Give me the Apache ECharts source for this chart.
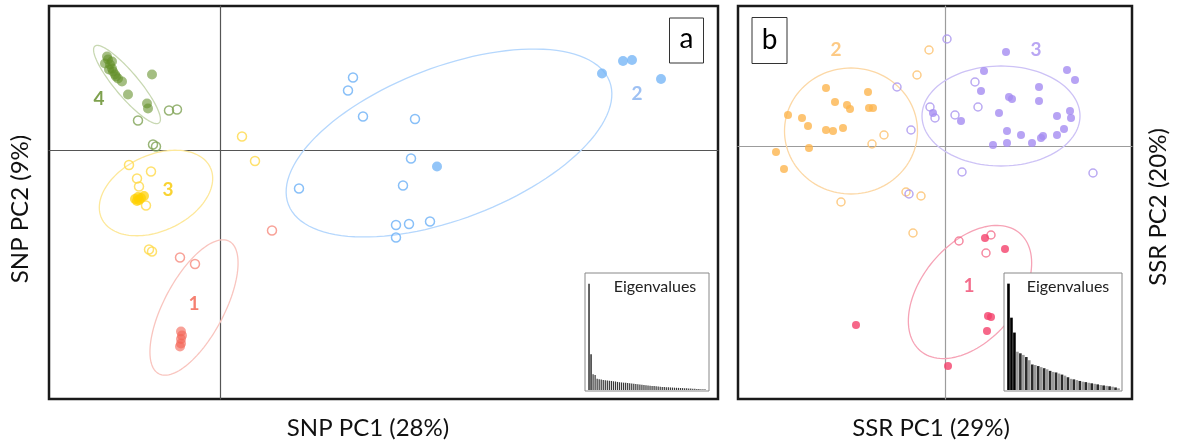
<!DOCTYPE html>
<html><head><meta charset="utf-8">
<script src="https://cdn.jsdelivr.net/npm/echarts@6/dist/echarts.min.js"></script>
<style>html,body{margin:0;padding:0;background:#fff}#c{width:1177px;height:444px}</style>
</head><body><div id="c"></div>
<script>
// ---------------- DATA (PCA scores) ----------------
// Panel a: SNP
const snpG4Filled = [[-1.13,0.94],[-1.12,0.91],[-1.15,0.87],[-1.10,0.86],[-1.08,0.89],[-1.08,0.82],[-1.07,0.79],[-1.05,0.76],[-1.02,0.72],[-0.98,0.69],[-0.92,0.56],[-0.73,0.47],[-0.72,0.42],[-0.68,0.76],[-1.11,0.81],[-1.04,0.74]];
const snpG4Open   = [[-0.82,0.30],[-0.51,0.40],[-0.43,0.41],[-0.67,0.06],[-0.64,0.04]];
const snpG3Filled = [[-0.85,-0.485],[-0.82,-0.465],[-0.79,-0.475],[-0.76,-0.455],[-0.83,-0.505],[-0.81,-0.495]];
const snpG3Open   = [[0.22,0.14],[0.35,-0.105],[-0.91,-0.145],[-0.69,-0.21],[-0.83,-0.28],[-0.81,-0.36],[-0.74,-0.55],[-0.71,-0.99],[-0.68,-1.01]];
const snpG1Filled = [[-0.39,-1.81],[-0.38,-1.85],[-0.39,-1.885],[-0.39,-1.93],[-0.40,-1.96]];
const snpG1Open   = [[-0.40,-1.07],[-0.25,-1.135],[0.52,-0.80]];
const snpG2Filled = [[2.17,-0.16],[3.82,0.77],[4.03,0.895],[4.12,0.905],[4.41,0.715]];
const snpG2Open   = [[1.33,0.73],[1.28,0.60],[1.43,0.34],[0.79,-0.38],[1.95,0.315],[1.91,-0.08],[1.83,-0.35],[1.76,-0.745],[1.89,-0.735],[2.10,-0.71],[1.76,-0.87]];
// ellipses: [centre x, centre y, semi-axis a, semi-axis b, angle deg]
const snpEllipses = {g4:[-0.93,0.66,0.50,0.12,-50], g3:[-0.64,-0.425,0.60,0.38,25], g1:[-0.26,-1.57,0.75,0.30,62], g2:[2.29,0.075,1.72,0.76,21]};
const snpLabels = [['4',-1.21,0.52,'g4'],['3',-0.52,-0.39,'g3'],['1',-0.26,-1.53,'g1'],['2',4.17,0.57,'g2']];
const snpEigen = [100,33.5,14.7,14,10.5,10,9.8,9.5,9.2,9,8.8,8.5,8.2,8,7.6,7.3,7.1,6.9,6.7,6.5,6.3,6.1,5.9,5.7,5.5,5.2,4.9,4.7,4.5,4.3,4.0,3.8,3.7,3.5,3.3,3.1,2.9,2.8,2.6,2.5,2.4,2.3,2.2,2.1,2.0,1.9,1.8,1.7,1.6,1.5,1.4,1.2,1.1,1.0,0.9,0.8,0.7,0.6];

// Panel b: SSR
const ssrG2Filled = [[-1.19,0.58],[-1.10,0.44],[-0.98,0.41],[-0.95,0.37],[-0.77,0.54],[-0.76,0.38],[-0.72,0.38],[-1.57,0.31],[-1.43,0.28],[-1.37,0.20],[-1.19,0.16],[-1.12,0.15],[-1.02,0.18],[-1.36,-0.02],[-1.69,-0.06],[-1.61,-0.23]];
const ssrG2Open   = [[-0.16,0.96],[-0.28,0.71],[-0.61,0.11],[-0.73,0.02],[-1.04,-0.56],[-0.39,-0.46],[-0.24,-0.50],[-0.32,-0.87]];
const ssrG3Filled = [[-0.12,0.33],[0.16,0.25],[0.61,0.94],[0.39,0.75],[0.36,0.55],[0.64,0.49],[0.67,0.47],[0.54,0.33],[0.94,0.59],[0.94,0.45],[1.22,0.76],[1.30,0.66],[1.12,0.30],[1.25,0.35],[1.26,0.28],[1.19,0.17],[1.12,0.11],[0.98,0.10],[0.96,0.08],[0.87,0.03],[0.76,0.11],[0.62,0.15],[0.62,0.03],[0.48,0.01]];
const ssrG3Open   = [[0.02,1.07],[-0.48,0.59],[-0.34,0.16],[-0.15,0.39],[-0.10,0.28],[0.10,0.31],[0.17,-0.26],[-0.36,-0.48],[0.30,0.64],[0.33,0.39],[1.48,-0.27]];
const ssrG1Filled = [[0.40,-0.92],[0.60,-1.03],[0.43,-1.70],[0.46,-1.71],[0.42,-1.85],[-0.89,-1.79],[0.03,-2.20]];
const ssrG1Open   = [[0.14,-0.95],[0.46,-0.89],[0.41,-1.07]];
const ssrEllipses = {g2:[-0.94,0.15,0.665,0.63,0], g3:[0.56,0.30,0.79,0.50,0], g1:[0.25,-1.46,0.77,0.48,50]};
const ssrLabels = [['2',-1.09,0.96,'g2'],['3',0.91,0.96,'g3'],['1',0.24,-1.40,'g1']];
const ssrEigen = [100,68,54,36,34.5,33,31,28,24,23.5,22.5,21.5,20.5,19.5,18,17,16.5,15.5,14.5,13.5,12,10.5,10,9.3,8.5,7.8,7.4,6.8,6.3,5.8,5.3,4.7,4.3,3.9,3.5,3.1,2.4,1.6];

const axisTitles = ['SNP PC1 (28%)','SNP PC2 (9%)','SSR PC1 (29%)','SSR PC2 (20%)'];
const panelLetters = ['a','b'];
const insetTitle = 'Eigenvalues';

// ---------------- STYLES ----------------
const FONT = 'Lato, "Open Sans", sans-serif';
const stA = {
  g4:{fill:'rgba(98,143,38,0.72)', open:'#7fa255', ell:'#c8d8b2', lab:'#5e8a22'},
  g3:{fill:'rgba(255,208,0,0.9)', open:'#ffd948', ell:'#fde89a', lab:'#f7c800'},
  g1:{fill:'rgba(244,98,84,0.75)', open:'#f68b7e', ell:'#f9c5bf', lab:'#f3604e'},
  g2:{fill:'#78b7f6', open:'#6cb0f6', ell:'#b5d7fd', lab:'#86b2f0'}
};
const stB = {
  g2:{fill:'#fdb54f', open:'#fcc06c', ell:'#fcd8a6', lab:'#fdbd66'},
  g3:{fill:'#a58cf1', open:'#a994ef', ell:'#cdc2f6', lab:'#a890f0'},
  g1:{fill:'#f4416b', open:'#f26c89', ell:'#f6a3b6', lab:'#f0486f'}
};

function ellipseItem(params, api){
  const cx=api.value(0), cy=api.value(1), a=api.value(2), b=api.value(3), th=api.value(4)*Math.PI/180;
  const pts=[];
  for(let i=0;i<=120;i++){
    const t=i/120*2*Math.PI;
    const x=cx+a*Math.cos(t)*Math.cos(th)-b*Math.sin(t)*Math.sin(th);
    const y=cy+a*Math.cos(t)*Math.sin(th)+b*Math.sin(t)*Math.cos(th);
    pts.push(api.coord([x,y]));
  }
  return {type:'polyline', shape:{points:pts}, style:{fill:null, stroke:api.visual('color'), lineWidth:1.3}};
}

const series = [];
function addPanel(idx, groups, ellipses, labels, st, fSize, oSize){
  series.push({type:'custom', xAxisIndex:idx, yAxisIndex:idx, z:2, silent:true,
    renderItem: ellipseItem,
    data: Object.keys(ellipses).map(k=>({value:ellipses[k], itemStyle:{color:st[k].ell}}))});
  groups.forEach(([k, filled, open])=>{
    series.push({type:'scatter', xAxisIndex:idx, yAxisIndex:idx, z:3, symbol:'circle', symbolSize:oSize,
      itemStyle:{color:'rgba(255,255,255,0)', borderColor:st[k].open, borderWidth:1.5}, data:open});
    series.push({type:'scatter', xAxisIndex:idx, yAxisIndex:idx, z:4, symbol:'circle', symbolSize:fSize,
      itemStyle:{color:st[k].fill}, data:filled});
  });
  series.push({type:'scatter', xAxisIndex:idx, yAxisIndex:idx, z:5, symbolSize:1, silent:true,
    itemStyle:{color:'rgba(255,255,255,0)'},
    label:{show:true, position:'inside', formatter:'{b}', fontSize:19, fontWeight:'bold', fontFamily:FONT},
    data: labels.map(l=>({name:l[0], value:[l[1],l[2]], label:{color:st[l[3]].lab}}))});
}
addPanel(0, [['g4',snpG4Filled,snpG4Open],['g3',snpG3Filled,snpG3Open],['g1',snpG1Filled,snpG1Open],['g2',snpG2Filled,snpG2Open]], snpEllipses, snpLabels, stA, 10, 9);
addPanel(1, [['g2',ssrG2Filled,ssrG2Open],['g3',ssrG3Filled,ssrG3Open],['g1',ssrG1Filled,ssrG1Open]], ssrEllipses, ssrLabels, stB, 8, 8);

series.push({type:'bar', xAxisIndex:2, yAxisIndex:2, z:10, barCategoryGap:'40%', silent:true,
  itemStyle:{color:p=> p.dataIndex<2 ? '#000' : '#3a3a3a'}, data:snpEigen});
series.push({type:'bar', xAxisIndex:3, yAxisIndex:3, z:10, barCategoryGap:'12%', silent:true,
  itemStyle:{color:p=> p.dataIndex<3 ? '#000' : (p.dataIndex%2 ? '#9a9a9a' : '#2a2a2a')}, data:ssrEigen});

function valAxis(gi, min, max, col){
  return {type:'value', gridIndex:gi, min:min, max:max, axisLine:{show:true, onZero:true, lineStyle:{color:col, width:1.2}},
    axisTick:{show:false}, axisLabel:{show:false}, splitLine:{show:false}};
}
const hid = gi => ({type:'value', gridIndex:gi, show:false, min:0, max:110});
const hidCat = (gi, n) => ({type:'category', gridIndex:gi, show:false, data:n.map((_,i)=>i)});

const option = {
  animation:false,
  backgroundColor:'#fff',
  grid:[
    {left:49, top:6, width:669, height:393, show:true, borderColor:'#1a1a1a', borderWidth:2.5, backgroundColor:'#fff'},
    {left:738, top:6, width:394, height:393, show:true, borderColor:'#1a1a1a', borderWidth:2.5, backgroundColor:'#fff'},
    {left:588, top:273, width:118, height:117},
    {left:1007, top:273, width:113, height:117}
  ],
  xAxis:[valAxis(0,-1.71,4.98,'#555'), valAxis(1,-2.07,1.87,'#9c9c9c'), hidCat(2,snpEigen), hidCat(3,ssrEigen)],
  yAxis:[valAxis(0,-2.485,1.445,'#555'), valAxis(1,-2.53,1.40,'#9c9c9c'), hid(2), hid(3)],
  graphic:[
    {type:'rect', z:9, shape:{x:585, y:273, width:124, height:118}, style:{fill:'#fff', stroke:'#888', lineWidth:1}},
    {type:'rect', z:9, shape:{x:1004, y:273, width:118, height:118}, style:{fill:'#fff', stroke:'#888', lineWidth:1}},
    {type:'text', z:12, x:655, y:287, style:{text:insetTitle, font:'16px '+FONT, fill:'#222', align:'center', verticalAlign:'middle'}},
    {type:'text', z:12, x:1068, y:287, style:{text:insetTitle, font:'16px '+FONT, fill:'#222', align:'center', verticalAlign:'middle'}},
    {type:'rect', z:9, shape:{x:669.5, y:18, width:34, height:45}, style:{fill:'#fff', stroke:'#333', lineWidth:1}},
    {type:'text', z:12, x:686.5, y:39, style:{text:panelLetters[0], font:'28px '+FONT, fill:'#000', align:'center', verticalAlign:'middle'}},
    {type:'rect', z:9, shape:{x:752, y:17.5, width:35, height:46}, style:{fill:'#fff', stroke:'#333', lineWidth:1}},
    {type:'text', z:12, x:769.5, y:40, style:{text:panelLetters[1], font:'28px '+FONT, fill:'#000', align:'center', verticalAlign:'middle'}},
    {type:'text', z:12, x:368, y:428, style:{text:axisTitles[0], font:'24px '+FONT, fill:'#111', align:'center', verticalAlign:'middle'}},
    {type:'text', z:12, x:20, y:209, rotation:Math.PI/2, style:{text:axisTitles[1], font:'24px '+FONT, fill:'#111', align:'center', verticalAlign:'middle'}},
    {type:'text', z:12, x:931, y:428, style:{text:axisTitles[2], font:'24px '+FONT, fill:'#111', align:'center', verticalAlign:'middle'}},
    {type:'text', z:12, x:1158, y:207, rotation:Math.PI/2, style:{text:axisTitles[3], font:'24px '+FONT, fill:'#111', align:'center', verticalAlign:'middle'}}
  ],
  series: series
};
const chart = echarts.init(document.getElementById('c'));
chart.setOption(option);
</script></body></html>
